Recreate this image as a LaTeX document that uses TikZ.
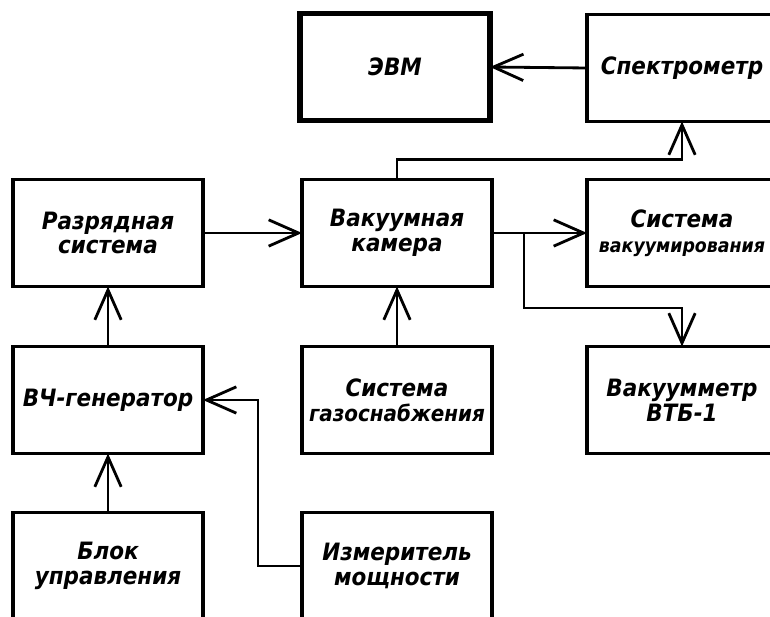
\documentclass[tikz,border=0pt]{standalone}
\usepackage{fontspec}
\setmainfont{DejaVu Sans Condensed}
\usetikzlibrary{arrows.meta}
\begin{document}
\begin{tikzpicture}[x=0.02cm, y=-0.02cm,
    box/.style={draw, line width=2pt, outer sep=0pt, inner xsep=2pt, minimum width=3.8cm, minimum height=2.14cm, align=center, font=\fontsize{13.6}{14}\selectfont\bfseries\itshape},
    conn/.style={line width=1.6pt, -{Straight Barb[length=17pt, width=15pt, line width=1.6pt]}}]
    \useasboundingbox (0,0) rectangle (770,617);
    \clip (0,0) rectangle (770,617);
    \node[box, line width=3pt] (evm)     at (395, 67)  {ЭВМ};
    \node[box]                 (spec)    at (682, 68)  {Спектрометр};
    \node[box]                 (razr)    at (108, 233) {Разрядная\\система};
    \node[box]                 (vak)     at (397, 233) {Вакуумная\\камера};
    \node[box]                 (sysvak)  at (682, 233) {Система\\{\fontsize{11}{13}\selectfont вакуумирования}};
    \node[box]                 (vch)     at (108, 400) {ВЧ-генератор};
    \node[box]                 (gas)     at (397, 400) {Система\\{\fontsize{12.6}{14}\selectfont газоснабжения}};
    \node[box]                 (vakmetr) at (682, 400) {Вакуумметр\\ВТБ-1};
    \node[box]                 (blok)    at (108, 566) {Блок\\управления};
    \node[box]                 (izm)     at (397, 566) {Измеритель\\мощности};
    \coordinate (br) at (524, 233);
    \draw[conn] (spec.west) -- (evm.east);
    \draw[conn] (razr.east) -- (vak.west);
    \draw[conn] (vak.north) -- ++(0,-20) -| (spec.south);
    \draw[conn] (vak.east) -- (sysvak.west);
    \draw[conn] (br) -- ++(0,75) -| (vakmetr.north);
    \draw[conn] (gas.north) -- (vak.south);
    \draw[conn] (vch.north) -- (razr.south);
    \draw[conn] (blok.north) -- (vch.south);
    \draw[conn] (izm.west) -- ++(-44,0) |- (vch.east);
\end{tikzpicture}
\end{document}
